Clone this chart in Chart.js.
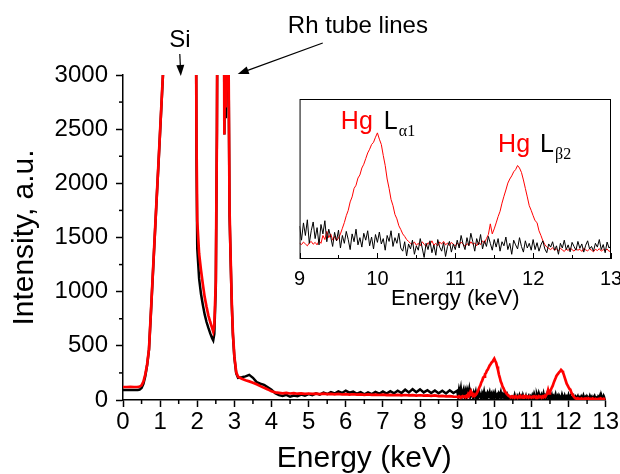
<!DOCTYPE html>
<html>
<head>
<meta charset="utf-8">
<script src="https://cdn.jsdelivr.net/npm/chart.js@4.4.0/dist/chart.umd.min.js"></script>
<style>
  html, body { margin: 0; padding: 0; background: #fff; }
  #wrap { position: relative; width: 620px; height: 474px; }
  #main { position: absolute; left: 0; top: 0; }
  #inset { position: absolute; left: 290px; top: 90px; }
</style>
</head>
<body>
<div id="wrap">
  <canvas id="main" width="620" height="474"></canvas>
  <canvas id="inset" width="340" height="220"></canvas>
</div>
<script>
// ---- data (energy in keV, intensity in a.u.) ----
// 0 - 3.05 keV, uneven steps around the Si / Rh lines
const lowEnergy = [0, 0.1, 0.2, 0.3, 0.4, 0.45, 0.5, 0.55, 0.6, 0.65,
  0.7, 0.75, 0.8, 0.85, 0.9, 0.95, 1.0, 1.05, 1.1, 1.2,
  1.5, 1.9, 1.96, 1.98, 2.0, 2.05, 2.1, 2.15, 2.2, 2.25,
  2.3, 2.35, 2.4, 2.43, 2.46, 2.5, 2.53, 2.56, 2.65, 2.71,
  2.73, 2.75, 2.77, 2.79, 2.81, 2.84, 2.87, 2.9, 2.93, 2.96,
  3.0, 3.05];
const lowRed = [120, 120, 121, 120, 121, 124, 135, 170, 235, 330,
  470, 800, 1140, 1480, 1820, 2150, 2490, 2830, 3170, 6000,
  12000, 8000, 4000, 2400, 1650, 1350, 1200, 1070, 950, 860,
  780, 720, 665, 632, 690, 1100, 2500, 5000, 8000, 5000,
  2450, 3200, 2700, 3300, 2900, 3300, 1750, 1300, 900, 620,
  400, 255];
const lowBlack = [93, 93, 92, 93, 93, 96, 110, 150, 220, 320,
  465, 790, 1130, 1470, 1810, 2140, 2480, 2820, 3160, 6000,
  12000, 8000, 4000, 2200, 1400, 1120, 980, 880, 790, 720,
  665, 615, 570, 550, 610, 1050, 2500, 5000, 8000, 5000,
  2450, 3100, 2600, 3200, 2850, 3250, 1700, 1280, 880, 600,
  390, 245];

// 3.1 - 8.9 keV, channel step 0.1 keV
const midStart = 3.1, midStep = 0.1;
const midRed = [215, 195, 182, 172, 160, 145, 128, 112, 98, 80,
  70, 66, 62, 65, 60, 63, 58, 61, 57, 60,
  56, 59, 55, 58, 54, 57, 52, 56, 51, 55,
  50, 53, 49, 52, 48, 51, 47, 50, 46, 49,
  45, 48, 44, 47, 43, 46, 42, 45, 41, 44,
  40, 43, 39, 42, 36, 38, 33, 35, 31];
const midBlack = [205, 210, 218, 232, 205, 165, 150, 140, 118, 95,
  62, 45, 38, 48, 30, 42, 35, 50, 40, 55,
  45, 62, 50, 68, 55, 72, 60, 80, 65, 85,
  68, 78, 58, 72, 52, 70, 55, 75, 58, 78,
  60, 82, 62, 85, 65, 95, 70, 100, 72, 98,
  70, 90, 65, 88, 62, 85, 60, 90, 65];

// 9 - 13 keV (Hg L lines), channel step 0.025 keV
const fineStart = 9.0, fineStep = 0.025;
const fineRed = [30, 26, 34, 28, 22, 31, 36, 27, 33, 25,
  38, 30, 55, 42, 68, 48, 60, 40, 52, 38,
  47, 60, 78, 96, 118, 135, 162, 178, 205, 215,
  238, 248, 270, 282, 300, 318, 330, 345, 352, 368,
  382, 362, 345, 310, 278, 235, 205, 170, 150, 122,
  108, 86, 74, 60, 52, 42, 36, 30, 28, 34,
  24, 30, 22, 35, 27, 20, 32, 26, 38, 24,
  30, 22, 34, 28, 36, 25, 31, 23, 33, 27,
  22, 30, 25, 34, 28, 20, 29, 24, 35, 27,
  31, 22, 33, 26, 38, 30, 45, 58, 92, 60,
  76, 95, 115, 132, 158, 180, 200, 222, 235, 245,
  258, 265, 278, 270, 256, 232, 205, 178, 150, 135,
  118, 102, 96, 70, 55, 38, 26, 18, 14, 10,
  16, 8, 12, 6, 14, 9, 4, 12, 7, 15,
  10, 5, 13, 8, 11, 4, 14, 9, 6, 12,
  8, 3, 11, 7, 13, 5, 10, 6, 12, 4,
  8];
const fineBlack = [85, 40, 95, 55, 105, 30, 70, 98, 45, 80,
  25, 90, 60, 102, 35, 75, 50, 20, 65, 38,
  72, 15, 55, 30, 68, 42, 10, 60, 35, 75,
  25, 48, 18, 62, 40, 70, 22, 50, 12, 58,
  33, 66, 28, 45, 8, 55, 36, 70, 20, 48,
  30, 62, 15, 5, 35, -10, 28, 12, 40, -5,
  22, 8, 45, 15, -15, 30, 10, 38, 0, 25,
  -8, 42, 18, 5, 32, -12, 20, 36, 2, 28,
  10, 40, 15, 55, 28, 10, 48, 22, 62, 35,
  5, 45, 25, 58, 12, 38, 20, 52, 30, 8,
  42, 18, 45, 5, 35, 22, 50, 10, 30, -5,
  40, 25, 12, 48, 20, 2, 38, 15, 30, 8,
  42, 10, 32, 5, 25, 38, 12, 0, 28, 18,
  35, 8, 22, -5, 30, 15, 40, 10, 25, 3,
  33, 20, 8, 36, 14, 28, 2, 24, 38, 12,
  20, 5, 30, 18, 42, 10, 26, 0, 34, 15,
  22];

// axis ticks
const mainXTicks = [0, 1, 2, 3, 4, 5, 6, 7, 8, 9, 10, 11, 12, 13];
const mainXMinor = [0.5, 1.5, 2.5, 3.5, 4.5, 5.5, 6.5, 7.5, 8.5, 9.5, 10.5, 11.5, 12.5];
const mainYTicks = [0, 500, 1000, 1500, 2000, 2500, 3000];
const mainYMinor = [250, 750, 1250, 1750, 2250, 2750];
const insetXTicks = [9, 10, 11, 12, 13];
const insetXMinor = [9.5, 10.5, 11.5, 12.5];

// ---- build points ----
const midEnergy = midRed.map((_, i) => +(midStart + i * midStep).toFixed(3));
const fineEnergy = fineRed.map((_, i) => +(fineStart + i * fineStep).toFixed(3));

function toPoints(xs, ys) {
    return xs.map((x, i) => ({ x: x, y: ys[i] }));
}

const redMain = [].concat(toPoints(lowEnergy, lowRed), toPoints(midEnergy, midRed), toPoints(fineEnergy, fineRed));
const blackMain = [].concat(toPoints(lowEnergy, lowBlack), toPoints(midEnergy, midBlack), toPoints(fineEnergy, fineBlack));

const FONT = "'Liberation Sans', Arial, sans-serif";

function setTicks(list) {
    return function (scale) {
        scale.ticks = list.map(v => ({ value: v }));
    };
}

function plainNumber(v) {
    return String(v);
}

function arrow(ctx, x0, y0, x1, y1) {
    const a = Math.atan2(y1 - y0, x1 - x0);
    const len = 11, w = 4;
    ctx.beginPath();
    ctx.moveTo(x0, y0);
    ctx.lineTo(x1 - Math.cos(a) * len * 0.7, y1 - Math.sin(a) * len * 0.7);
    ctx.stroke();
    ctx.beginPath();
    ctx.moveTo(x1, y1);
    ctx.lineTo(x1 - len * Math.cos(a) + w * Math.sin(a), y1 - len * Math.sin(a) - w * Math.cos(a));
    ctx.lineTo(x1 - len * Math.cos(a) - w * Math.sin(a), y1 - len * Math.sin(a) + w * Math.cos(a));
    ctx.closePath();
    ctx.fill();
}

// minor ticks + annotations of the main plot
const mainDecor = {
    id: 'mainDecor',
    afterDraw(chart) {
        const ctx = chart.ctx;
        const x = chart.scales.x, y = chart.scales.y;
        const area = chart.chartArea;
        ctx.save();
        ctx.strokeStyle = '#000';
        ctx.fillStyle = '#000';
        ctx.lineWidth = 1.5;
        mainXMinor.forEach(v => {
            const px = x.getPixelForValue(v);
            ctx.beginPath(); ctx.moveTo(px, area.bottom); ctx.lineTo(px, area.bottom + 4); ctx.stroke();
        });
        mainYMinor.forEach(v => {
            const py = y.getPixelForValue(v);
            ctx.beginPath(); ctx.moveTo(area.left, py); ctx.lineTo(area.left - 4, py); ctx.stroke();
        });

        // Si arrow
        const top = y.getPixelForValue(3000);
        const siX = x.getPixelForValue(1.53);
        ctx.lineWidth = 1.2;
        arrow(ctx, siX, top - 21, siX + 1, top + 1);
        ctx.font = '24px ' + FONT;
        ctx.textAlign = 'center';
        ctx.textBaseline = 'alphabetic';
        ctx.fillText('Si', siX, top - 28);

        // Rh tube lines arrow
        arrow(ctx, x.getPixelForValue(5.38), top - 32, x.getPixelForValue(3.09), top - 1);
        ctx.textAlign = 'left';
        ctx.fillText('Rh tube lines', x.getPixelForValue(4.44), top - 42);
        ctx.restore();
    }
};

new Chart(document.getElementById('main'), {
    type: 'line',
    data: {
        datasets: [{
            label: 'red',
            data: redMain,
            borderColor: '#ff0000',
            borderWidth: 2.7,
            pointRadius: 0,
            tension: 0,
            clip: 0
        }, {
            label: 'black',
            data: blackMain,
            borderColor: '#000000',
            borderWidth: 2.5,
            pointRadius: 0,
            tension: 0,
            clip: 0
        }]
    },
    options: {
        responsive: false,
        animation: false,
        events: [],
        layout: { padding: { left: 0, right: 13, top: 75, bottom: 0 } },
        plugins: {
            legend: { display: false },
            tooltip: { enabled: false }
        },
        scales: {
            x: {
                type: 'linear',
                min: 0,
                max: 13,
                afterBuildTicks: setTicks(mainXTicks),
                afterFit: s => { s.height = 74; },
                ticks: {
                    color: '#000',
                    font: { family: FONT, size: 24 },
                    padding: 1,
                    autoSkip: false,
                    maxRotation: 0,
                    callback: plainNumber
                },
                grid: { drawOnChartArea: false, tickLength: 7, color: '#000', tickWidth: 1.5 },
                border: { display: true, color: '#000', width: 1.5 },
                title: {
                    display: true,
                    text: 'Energy (keV)',
                    color: '#000',
                    font: { family: FONT, size: 30, lineHeight: 1 },
                    padding: { top: 0, bottom: 0 }
                }
            },
            y: {
                type: 'linear',
                min: 0,
                max: 3000,
                afterBuildTicks: setTicks(mainYTicks),
                afterFit: s => { s.width = 123; },
                ticks: {
                    color: '#000',
                    font: { family: FONT, size: 24 },
                    padding: 8,
                    callback: plainNumber
                },
                grid: { drawOnChartArea: false, tickLength: 7, color: '#000', tickWidth: 1.5 },
                border: { display: true, color: '#000', width: 1.5 },
                title: {
                    display: true,
                    text: 'Intensity, a.u.',
                    color: '#000',
                    font: { family: FONT, size: 30, lineHeight: 1 },
                    padding: { top: 10, bottom: 0 }
                }
            }
        }
    },
    plugins: [mainDecor]
});

// ---- inset ----
const insetDecor = {
    id: 'insetDecor',
    beforeDraw(chart) {
        const a = chart.chartArea;
        chart.ctx.save();
        chart.ctx.fillStyle = '#fff';
        chart.ctx.fillRect(a.left, a.top, a.right - a.left, a.bottom - a.top);
        chart.ctx.restore();
    },
    afterDraw(chart) {
        const ctx = chart.ctx;
        const a = chart.chartArea;
        const x = chart.scales.x, y = chart.scales.y;
        ctx.save();
        ctx.strokeStyle = '#000';
        ctx.lineWidth = 1;
        ctx.strokeRect(a.left + 0.5, a.top + 0.5, a.right - a.left - 1, a.bottom - a.top - 1);
        insetXTicks.forEach(v => {
            const px = Math.round(x.getPixelForValue(v)) + 0.5;
            ctx.beginPath(); ctx.moveTo(px, a.bottom); ctx.lineTo(px, a.bottom - 6); ctx.stroke();
        });
        insetXMinor.forEach(v => {
            const px = Math.round(x.getPixelForValue(v)) + 0.5;
            ctx.beginPath(); ctx.moveTo(px, a.bottom); ctx.lineTo(px, a.bottom - 4); ctx.stroke();
        });

        ctx.textAlign = 'left';
        ctx.textBaseline = 'alphabetic';
        const b1 = y.getPixelForValue(395);
        const w1 = x.getPixelForValue(9.53);
        ctx.font = '25px ' + FONT;
        ctx.fillStyle = '#ff0000';
        ctx.fillText('Hg', w1, b1);
        ctx.fillStyle = '#000';
        ctx.fillText('L', w1 + 43, b1);
        ctx.font = '16px "Liberation Serif", "Times New Roman", serif';
        ctx.fillText('\u03b11', w1 + 58, b1 + 7);

        const b2 = y.getPixelForValue(322);
        const w2 = x.getPixelForValue(11.55);
        ctx.font = '25px ' + FONT;
        ctx.fillStyle = '#ff0000';
        ctx.fillText('Hg', w2, b2);
        ctx.fillStyle = '#000';
        ctx.fillText('L', w2 + 42, b2);
        ctx.font = '16px "Liberation Serif", "Times New Roman", serif';
        ctx.fillText('\u03b22', w2 + 57, b2 + 7);
        ctx.restore();
    }
};

new Chart(document.getElementById('inset'), {
    type: 'line',
    data: {
        datasets: [{
            label: 'black',
            data: toPoints(fineEnergy, fineBlack),
            borderColor: '#000000',
            borderWidth: 1,
            pointRadius: 0,
            tension: 0,
            clip: 0
        }, {
            label: 'red',
            data: toPoints(fineEnergy, fineRed),
            borderColor: '#ff0000',
            borderWidth: 1,
            pointRadius: 0,
            tension: 0,
            clip: 0
        }]
    },
    options: {
        responsive: false,
        animation: false,
        events: [],
        layout: { padding: { left: 9, right: 19, top: 9, bottom: 0 } },
        plugins: {
            legend: { display: false },
            tooltip: { enabled: false }
        },
        scales: {
            x: {
                type: 'linear',
                min: 9,
                max: 13,
                afterBuildTicks: setTicks(insetXTicks),
                afterFit: s => { s.height = 51; },
                ticks: {
                    color: '#000',
                    font: { family: FONT, size: 20, lineHeight: 1.6 },
                    padding: 4,
                    autoSkip: false,
                    maxRotation: 0,
                    callback: plainNumber
                },
                grid: { display: false, drawTicks: false },
                border: { display: false },
                title: {
                    display: true,
                    text: 'Energy (keV)',
                    color: '#000',
                    font: { family: FONT, size: 22, lineHeight: 1 },
                    padding: { top: 0, bottom: 0 }
                }
            },
            y: {
                type: 'linear',
                display: false,
                min: -20,
                max: 490
            }
        }
    },
    plugins: [insetDecor]
});
</script>
</body>
</html>
